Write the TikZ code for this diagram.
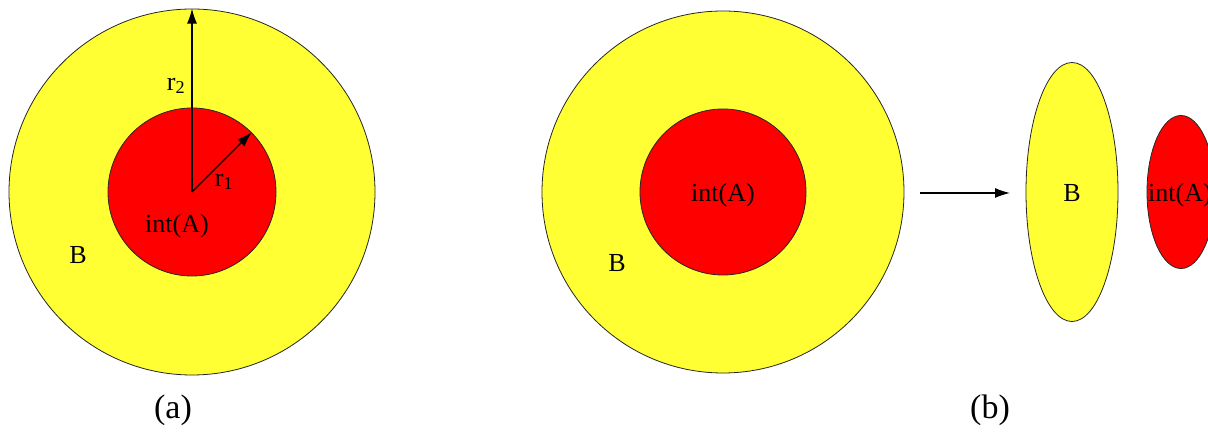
\documentclass[tikz,border=0pt]{standalone}
\usepackage{fontspec}
\setmainfont{Liberation Serif}
\usetikzlibrary{arrows.meta}
\usetikzlibrary{shapes.geometric}
\definecolor{setyellow}{RGB}{255,255,51}
\definecolor{setred}{RGB}{255,0,0}
\tikzset{
	bigset/.style={circle, draw=black!85, line width=0.8pt, fill=setyellow, inner sep=0pt},
	smallset/.style={circle, draw=black!85, line width=0.8pt, fill=setred, inner sep=0pt},
	label text/.style={font=\fontsize{26}{30}\selectfont, inner sep=0pt},
	caption text/.style={font=\fontsize{34}{40}\selectfont, inner sep=0pt}
}

\begin{document}
\begin{tikzpicture}[>={Latex[length=15pt,width=10pt]}, x=1pt, y=1pt]
		\useasboundingbox (0,0) rectangle (1208,436);
		\clip (0,0) rectangle (1208,436);
		% (a)
		\node[bigset, minimum size=366pt] (Bo) at (192,244) {};
		\node[smallset, minimum size=168pt] (Ao) at (192,244) {};
		\draw[->, line width=1.2pt] (Ao.center) -- (Bo.north);
		\draw[->, line width=1.2pt] (Ao.center) -- (Ao.45);
		\node[label text] (rtwo) at (176,350) {r\textsubscript{2}};
		\node[label text] (rone) at (224,254) {r\textsubscript{1}};
		\node[label text] (intAo) at (177,210) {int(A)};
		\node[label text] (Blo) at (78,181) {B};
		\node[caption text] (capa) at (173,26) {(a)};
		% (b)
		\node[bigset, minimum size=362pt] (Bt) at (723,244) {};
		\node[smallset, minimum size=166pt] (At) at (723,244) {};
		\node[label text] (intAt) at (723,241) {int(A)};
		\node[label text] (Blt) at (617,173) {B};
		\node[ellipse, draw=black!85, line width=0.8pt, fill=setyellow,
			minimum width=92pt, minimum height=259pt, inner sep=0pt] (Bs) at (1072,244) {};
		\node[ellipse, draw=black!85, line width=0.8pt, fill=setred,
			minimum width=68pt, minimum height=153pt, inner sep=0pt] (As) at (1181,244) {};
		\node[label text] (Bls) at (1072,243) {B};
		\node[label text] (intAs) at (1180,241) {int(A)};
		\coordinate (from) at (920,243);
		\coordinate (to) at (1010,243);
		\draw[->, line width=1.2pt] (from) -- (to);
		\node[caption text] (capb) at (990,26) {(b)};
	\end{tikzpicture}
\end{document}
